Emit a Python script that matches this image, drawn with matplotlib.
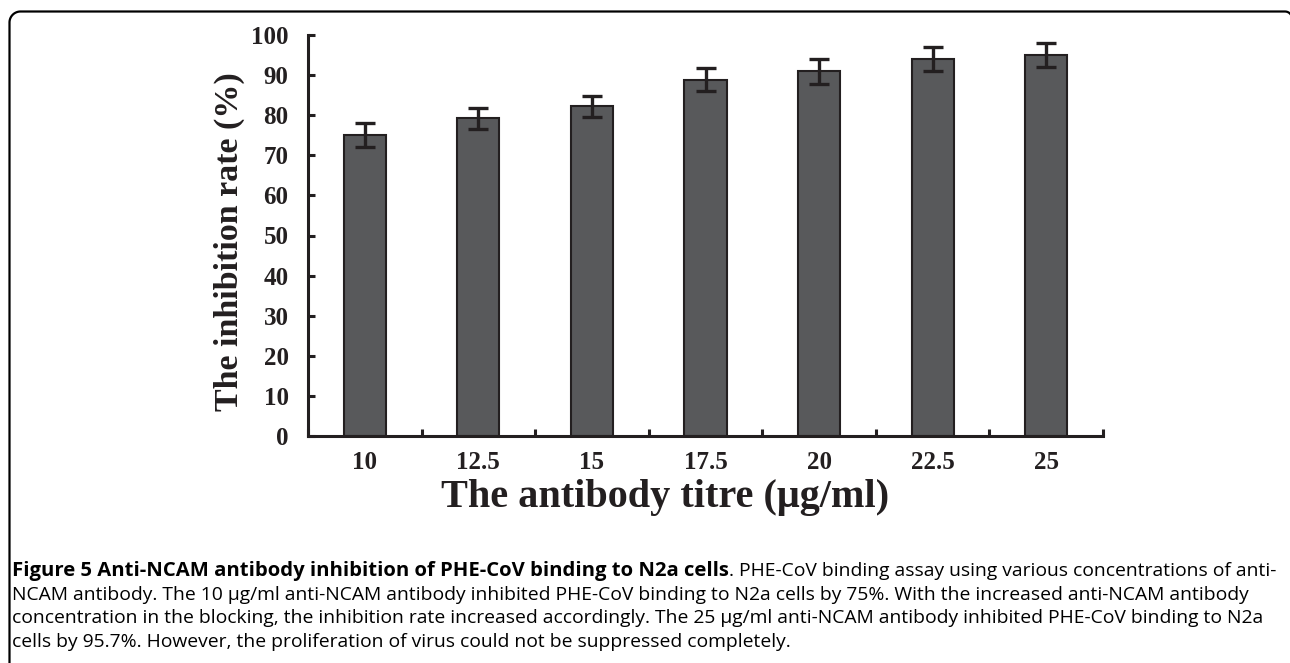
import matplotlib
matplotlib.use("Agg")
import matplotlib.pyplot as plt
from matplotlib.lines import Line2D
import numpy as np

categories = ["10", "12.5", "15", "17.5", "20", "22.5", "25"]
values = [75.1, 79.2, 82.2, 88.9, 90.9, 94.0, 95.0]
errors = [3.0, 2.7, 2.6, 2.9, 3.1, 3.0, 3.0]
yticks = [0, 10, 20, 30, 40, 50, 60, 70, 80, 90, 100]

W, H = 1290, 663
fig = plt.figure(figsize=(W / 100, H / 100), dpi=100)

def fx(px):
    return px / W

def fy(py):
    return 1 - py / H

# frame (drawn in pixel coordinates: rounded top-left corner, small top-right)
r1 = 11.0
r2 = 7.0
xl, yt, xr = 9.5, 11.5, 1292.0
pts = [(xl, 700.0), (xl, yt + r1)]
for a in np.linspace(np.pi, 1.5 * np.pi, 20):
    pts.append((xl + r1 + r1 * np.cos(a), yt + r1 + r1 * np.sin(a)))
pts.append((xr - r2, yt))
for a in np.linspace(1.5 * np.pi, 2 * np.pi, 12):
    pts.append((xr - r2 + r2 * np.cos(a), yt + r2 + r2 * np.sin(a)))
pts.append((xr, 700.0))
px_, py_ = zip(*pts)
fig.lines.append(Line2D([fx(p) for p in px_], [fy(p) for p in py_],
                        transform=fig.transFigure, color="black",
                        linewidth=1.6, solid_capstyle="butt"))

ax = fig.add_axes([fx(308), fy(436), fx(1103 - 308), (436 - 35) / H])
ink = "#231f20"
x = np.arange(len(categories))
ax.bar(x, values, width=0.37, color="#58595b", edgecolor=ink, linewidth=1.5,
       zorder=2)
ax.errorbar(x, values, yerr=errors, fmt="none", ecolor=ink, elinewidth=2.4,
            capsize=7.5, capthick=2.4, zorder=3)

ax.set_xlim(-0.5, len(categories) - 0.5)
ax.set_ylim(0, 100)
ax.set_yticks(yticks)
ax.set_yticklabels([str(t) for t in yticks])
ax.set_xticks(x)
ax.set_xticklabels(categories)
ax.set_xticks(np.arange(len(categories) + 1) - 0.5, minor=True)

for s in ["top", "right"]:
    ax.spines[s].set_visible(False)
for s in ["left", "bottom"]:
    ax.spines[s].set_linewidth(2.2)
    ax.spines[s].set_color(ink)

serif = ["Liberation Serif", "DejaVu Serif"]
ax.tick_params(axis="y", direction="in", length=5, width=2.2, color=ink,
               pad=14, labelsize=18)
ax.tick_params(axis="x", which="major", length=0, pad=11, labelsize=18)
ax.tick_params(axis="x", which="minor", direction="in", length=5, width=2.2,
               color=ink)
for lab in ax.get_xticklabels() + ax.get_yticklabels():
    lab.set_fontfamily(serif)
    lab.set_fontweight("bold")
    lab.set_color(ink)

fig.text(fx(229), fy(242), "The inhibition rate (%)", rotation=90,
         ha="center", va="center", fontsize=24.5, fontweight="bold",
         family=serif, color=ink)
fig.text(fx(665), fy(498), "The antibody titre (\u03bcg/ml)", ha="center",
         va="center", fontsize=29, fontweight="bold", family=serif, color=ink)

# caption
cap_font = ["Open Sans", "DejaVu Sans"]
cs = 13.9
cs_bold = 14.6
lines_y = [571, 595, 618, 642]
renderer = fig.canvas.get_renderer()
t1 = fig.text(fx(12), fy(lines_y[0]),
              "Figure 5 Anti-NCAM antibody inhibition of PHE-CoV binding to N2a cells",
              ha="left", va="center", fontsize=cs_bold, fontweight="bold",
              family=cap_font, color="black")
bb = t1.get_window_extent(renderer=renderer)
fig.text(bb.x1 / W, fy(lines_y[0]),
         ". PHE-CoV binding assay using various concentrations of anti-",
         ha="left", va="center", fontsize=cs, family=cap_font, color="black")
rest = [
    "NCAM antibody. The 10 \u03bcg/ml anti-NCAM antibody inhibited PHE-CoV binding to N2a cells by 75%. With the increased anti-NCAM antibody",
    "concentration in the blocking, the inhibition rate increased accordingly. The 25 \u03bcg/ml anti-NCAM antibody inhibited PHE-CoV binding to N2a",
    "cells by 95.7%. However, the proliferation of virus could not be suppressed completely.",
]
for yy, line in zip(lines_y[1:], rest):
    fig.text(fx(12), fy(yy), line, ha="left", va="center", fontsize=cs,
             family=cap_font, color="black")

fig.savefig("out.png", dpi=100)
